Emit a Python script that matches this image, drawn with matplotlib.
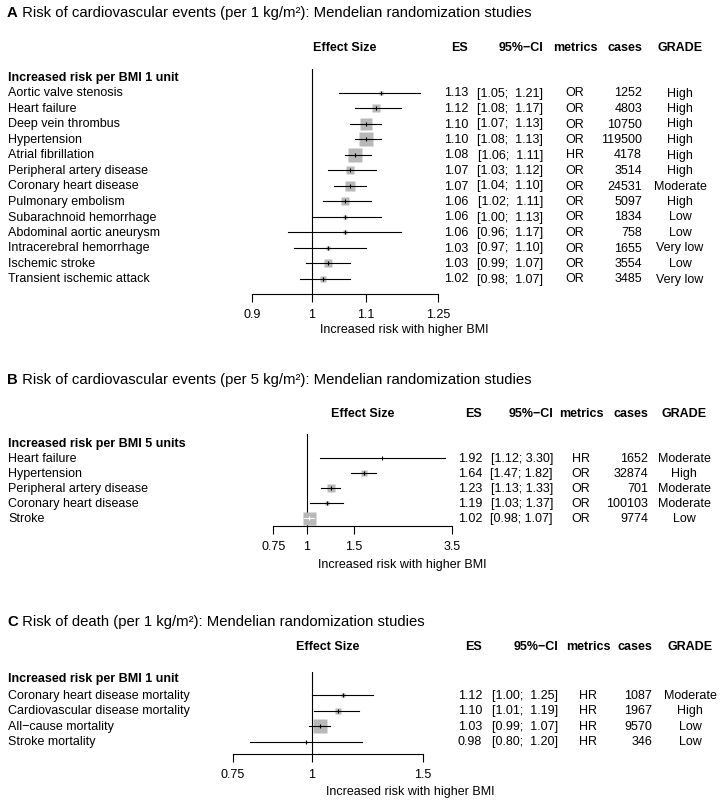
import numpy as np
import matplotlib.pyplot as plt
from matplotlib.ticker import NullLocator

plt.rcParams['font.family'] = ['Liberation Sans', 'DejaVu Sans']

W, H = 722, 803

# A: cardiovascular events, per 1 kg/m2
a_labels = ['Aortic valve stenosis', 'Heart failure', 'Deep vein thrombus', 'Hypertension',
            'Atrial fibrillation', 'Peripheral artery disease', 'Coronary heart disease',
            'Pulmonary embolism', 'Subarachnoid hemorrhage', 'Abdominal aortic aneurysm',
            'Intracerebral hemorrhage', 'Ischemic stroke', 'Transient ischemic attack']
a_es = [1.13, 1.12, 1.10, 1.10, 1.08, 1.07, 1.07, 1.06, 1.06, 1.06, 1.03, 1.03, 1.02]
a_lo = [1.05, 1.08, 1.07, 1.08, 1.06, 1.03, 1.04, 1.02, 1.00, 0.96, 0.97, 0.99, 0.98]
a_hi = [1.21, 1.17, 1.13, 1.13, 1.11, 1.12, 1.10, 1.11, 1.13, 1.17, 1.10, 1.07, 1.07]
a_metric = ['OR', 'OR', 'OR', 'OR', 'HR', 'OR', 'OR', 'OR', 'OR', 'OR', 'OR', 'OR', 'OR']
a_cases = [1252, 4803, 10750, 119500, 4178, 3514, 24531, 5097, 1834, 758, 1655, 3554, 3485]
a_grade = ['High', 'High', 'High', 'High', 'High', 'High', 'Moderate', 'High', 'Low', 'Low',
           'Very low', 'Low', 'Very low']
a_ticks = [0.9, 1, 1.1, 1.25]
a_ticklabels = ['0.9', '1', '1.1', '1.25']

# B: cardiovascular events, per 5 kg/m2
b_labels = ['Heart failure', 'Hypertension', 'Peripheral artery disease',
            'Coronary heart disease', 'Stroke']
b_es = [1.92, 1.64, 1.23, 1.19, 1.02]
b_lo = [1.12, 1.47, 1.13, 1.03, 0.98]
b_hi = [3.30, 1.82, 1.33, 1.37, 1.07]
b_metric = ['HR', 'OR', 'OR', 'OR', 'OR']
b_cases = [1652, 32874, 701, 100103, 9774]
b_grade = ['Moderate', 'High', 'Moderate', 'Moderate', 'Low']
b_ticks = [0.75, 1, 1.5, 3.5]
b_ticklabels = ['0.75', '1', '1.5', '3.5']

# C: death, per 1 kg/m2
c_labels = ['Coronary heart disease mortality', 'Cardiovascular disease mortality',
            'All\u2212cause mortality', 'Stroke mortality']
c_es = [1.12, 1.10, 1.03, 0.98]
c_lo = [1.00, 1.01, 0.99, 0.80]
c_hi = [1.25, 1.19, 1.07, 1.20]
c_metric = ['HR', 'HR', 'HR', 'HR']
c_cases = [1087, 1967, 9570, 346]
c_grade = ['Moderate', 'High', 'Low', 'Low']
c_ticks = [0.75, 1, 1.5]
c_ticklabels = ['0.75', '1', '1.5']

GRAY = '#b8b8b8'
FS = 9
TFS = 10.7


def fx(x):
    return x / W


def fy(y):
    return 1 - y / H


fig = plt.figure(figsize=(W / 100, H / 100), dpi=100)
bg = fig.add_axes([0, 0, 1, 1])
bg.set_axis_off()


def draw_panel(letter, title, group, labels, es, lo, hi, metric, cases, grade,
               ticks, ticklabels, lay, ci_sep):
    # titre du panneau
    t = bg.text(fx(7), fy(lay['title']), letter, fontsize=TFS, fontweight='bold',
                va='center', transform=fig.transFigure)
    bg.annotate(' ' + title, xy=(1, 0), xycoords=t, va='bottom', ha='left', fontsize=TFS)

    left, right, top, bottom = lay['left'], lay['right'], lay['top'], lay['bottom']
    col = lay['cols']

    # en-tetes
    hy = fy(lay['header'])
    fig.text(fx((left + right) / 2), hy, 'Effect Size', ha='center', va='center',
             fontsize=FS, fontweight='bold')
    fig.text(fx(col[0]), hy, 'ES', ha='right', va='center', fontsize=FS, fontweight='bold')
    fig.text(fx(col[1]), hy, '95%\u2212CI', ha='right', va='center', fontsize=FS,
             fontweight='bold')
    fig.text(fx(col[2]), hy, 'metrics', ha='center', va='center', fontsize=FS,
             fontweight='bold')
    fig.text(fx(col[3]), hy, 'cases', ha='right', va='center', fontsize=FS, fontweight='bold')
    fig.text(fx(col[4]), hy, 'GRADE', ha='center', va='center', fontsize=FS,
             fontweight='bold')
    fig.text(fx(8), fy(lay['group']), group, ha='left', va='center', fontsize=FS,
             fontweight='bold')

    ax = fig.add_axes([fx(left), fy(bottom), fx(right) - fx(left), (bottom - top) / H])
    ax.set_facecolor('none')
    ax.set_xscale('log')
    ax.set_xlim(ticks[0], ticks[-1])
    ax.set_ylim(bottom, top)
    ax.axvline(1, color='black', lw=0.8)

    lo_l, hi_l = np.log(lo), np.log(hi)
    se = (hi_l - lo_l) / 3.92
    side = lay['maxsq'] * se.min() / se
    px_per_log = (right - left) / (np.log(ticks[-1]) - np.log(ticks[0]))

    for i in range(len(labels)):
        y = lay['row0'] + i * lay['step']
        ax.plot(es[i], y, marker='s', ms=side[i] * 0.72, color=GRAY, mec='none',
                clip_on=False)
        inside = (hi_l[i] - lo_l[i]) * px_per_log < side[i]
        lc = 'white' if inside else 'black'
        ax.plot([lo[i], hi[i]], [y, y], color=lc, lw=0.8, clip_on=False)
        ax.plot(es[i], y, marker='|', ms=3.5, mew=0.8, color=lc, clip_on=False)

        ty = fy(y)
        fig.text(fx(8), ty, labels[i], ha='left', va='center', fontsize=FS)
        fig.text(fx(col[0]), ty, f'{es[i]:.2f}', ha='right', va='center', fontsize=FS)
        fig.text(fx(col[1]), ty, f'[{lo[i]:.2f};{ci_sep}{hi[i]:.2f}]', ha='right',
                 va='center', fontsize=FS)
        fig.text(fx(col[2]), ty, metric[i], ha='center', va='center', fontsize=FS)
        fig.text(fx(col[3]), ty, str(cases[i]), ha='right', va='center', fontsize=FS)
        fig.text(fx(col[4]), ty, grade[i], ha='center', va='center', fontsize=FS)

    for s in ['left', 'right', 'top']:
        ax.spines[s].set_visible(False)
    ax.spines['bottom'].set_linewidth(0.8)
    ax.set_yticks([])
    ax.set_xticks(ticks)
    ax.set_xticklabels(ticklabels)
    ax.xaxis.set_minor_locator(NullLocator())
    ax.tick_params(axis='x', direction='out', length=5.8, width=0.8, labelsize=FS, pad=4)

    fig.text(fx(lay['xlab_x']), fy(lay['xlab']), 'Increased risk with higher BMI',
             ha='left', va='center', fontsize=FS)


lay_a = dict(title=13, header=48, top=70, group=78, row0=93.5, step=15.5, bottom=295,
             xlab=330, xlab_x=320, left=251.7, right=438.3, maxsq=13.5,
             cols=[468, 543, 575, 642, 680])
lay_b = dict(title=380, header=414, top=435, group=444, row0=459, step=15, bottom=527,
             xlab=565, xlab_x=318, left=273.3, right=451.7, maxsq=13,
             cols=[482, 553, 581, 648, 684])
lay_c = dict(title=622, header=647, top=673, group=679, row0=696, step=15.5, bottom=755,
             xlab=792, xlab_x=326, left=232.7, right=422.7, maxsq=14,
             cols=[482, 558, 588, 652, 690])

draw_panel('A', 'Risk of cardiovascular events (per 1 kg/m\u00b2): Mendelian randomization studies',
           'Increased risk per BMI 1 unit', a_labels, a_es, a_lo, a_hi, a_metric, a_cases,
           a_grade, a_ticks, a_ticklabels, lay_a, '  ')
draw_panel('B', 'Risk of cardiovascular events (per 5 kg/m\u00b2): Mendelian randomization studies',
           'Increased risk per BMI 5 units', b_labels, b_es, b_lo, b_hi, b_metric, b_cases,
           b_grade, b_ticks, b_ticklabels, lay_b, ' ')
draw_panel('C', 'Risk of death (per 1 kg/m\u00b2): Mendelian randomization studies',
           'Increased risk per BMI 1 unit', c_labels, c_es, c_lo, c_hi, c_metric, c_cases,
           c_grade, c_ticks, c_ticklabels, lay_c, '  ')

fig.savefig('out.png', dpi=100)
